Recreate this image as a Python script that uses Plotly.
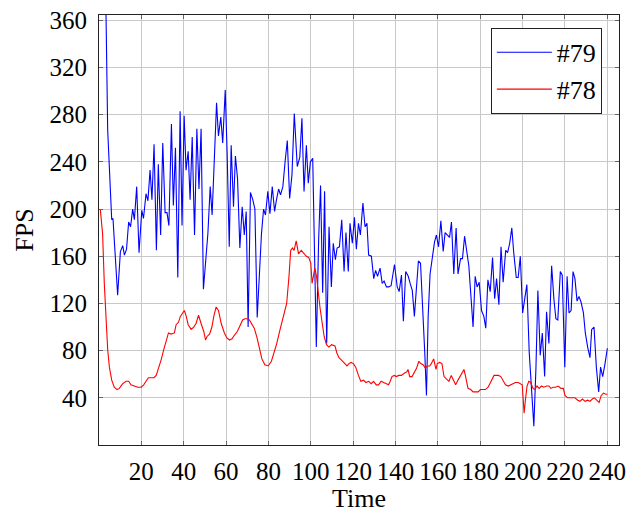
import plotly.graph_objects as go

# Series #79 (blue)
x79 = [1, 2, 3, 4.1, 6, 6.6, 8.8, 10.1, 11.2, 12, 13, 14, 14.9, 15.9, 16.7, 17.8, 18.9, 20.2, 21,
       22.2, 23.1, 24.1, 25, 26, 27.1, 28, 29.1, 30.1, 31.2, 32.1, 33, 34.2, 35.1, 36.1, 37.2,
       38.3, 39.2, 40.2, 41.1, 42.1, 43, 44, 45.1, 46.2, 47.2, 48.2, 49.3, 51.4, 52.5, 53.4,
       54.5, 55.5, 56.4, 57.5, 58.4, 59.6, 60.5, 61.5, 62.4, 63.5, 64.4, 65.4, 66.5, 67.6,
       68.6, 69.5, 70.4, 71.5, 72.6, 73.6, 74.7, 75.8, 76.7, 77.7, 78.6, 79.7, 80.7, 81.8,
       82.9, 83.8, 84.8, 85.7, 86.8, 87.9, 88.9, 90, 91.1, 92.2, 93.6, 94.8, 95.8, 96.8, 97.9,
       98.8, 99.8, 100.9, 102.6, 103.7, 104.6, 105.6, 106.5, 107.5, 108.6, 109.7, 110.6,
       111.6, 112.4, 113.5, 114.6, 115.7, 116.6, 117.7, 118.5, 119.6, 120.6, 121.5, 122.5,
       123.4, 124.6, 125.6, 126.5, 127.3, 128.6, 129.7, 130.6, 131.5, 132.7, 133.7, 134.6,
       135.7, 136.8, 137.9, 139.5, 140.8, 141.7, 142.8, 143.7, 144.8, 146, 146.9, 147.9,
       148.9, 149.9, 150.8, 151.8, 152.9, 153.8, 154.6, 155.4, 156.3, 157.4, 158.4, 159.3,
       160.3, 161.4, 162.5, 163.4, 164.5, 165.5, 166.4, 167.5, 168.6, 169.5, 170.7, 171.6,
       172.6, 173.7, 174.6, 175.6, 176.6, 177.6, 178.5, 179.5, 180.6, 181.7, 182.6, 183.6,
       184.7, 185.8, 186.8, 187.7, 188.8, 189.8, 190.8, 192, 192.9, 193.9, 194.9, 195.8,
       197, 197.9, 198.9, 200, 201, 202, 203.1, 204.3, 205.3, 206.3, 207.2, 208.3, 209.3,
       210.4, 211.3, 212.4, 213.7, 214.8, 215.7, 216.6, 217.8, 218.7, 219.9, 221, 221.9,
       222.9, 223.8, 224.7, 225.7, 226.6, 227.6, 228.7, 229.6, 230.7, 231.8, 232.6, 233.7,
       234.8, 235.9, 236.8, 237.8, 238.9, 240]
y79 = [500, 450, 404, 267, 191, 192, 127, 164, 169, 161, 166, 189, 185, 200, 191, 219, 163, 199, 192,
       213, 207, 233, 208, 255, 165, 238, 178, 256, 197, 197, 186, 272, 203, 252, 142,
       283, 186, 279, 233, 249, 208, 261, 178, 268, 217, 268, 132, 179, 219, 195,
       253, 290, 262, 278, 256, 301, 247, 168, 254, 202, 245, 226, 167, 202,
       178, 198, 100, 214, 208, 200, 108, 151, 179, 200, 195, 215, 196, 219,
       198, 208, 217, 212, 219, 241, 258, 209, 229, 281, 236, 244, 277, 215, 254,
       222, 240, 243, 83, 174, 220, 129, 215, 86, 185, 134, 171,
       157, 167, 168, 191, 147, 180, 147, 188, 171, 193, 166, 188,
       178, 205, 185, 188, 161, 160, 141, 148, 143, 150, 137, 139,
       134, 134, 135, 153, 134, 130, 144, 105, 147, 143, 137, 131,
       109, 131, 156, 154, 117, 78, 42, 109, 145, 160, 172, 178,
       168, 190, 164, 180, 178, 176, 189, 145, 184, 145, 158, 158,
       177, 162, 152, 126, 100, 143, 134, 138, 114, 109, 99, 140,
       130, 159, 124, 141, 119, 168, 138, 165, 163, 171, 184, 163,
       142, 142, 160, 112, 126, 136, 79, 48, 16, 66, 131, 76, 95,
       58, 113, 86, 152, 123, 107, 106, 147, 144, 66, 143, 112,
       114, 147, 141, 122, 126, 121, 112, 95, 83, 74, 98, 100,
       66, 45, 66, 58, 69, 82]

# Series #78 (red)
x78 = [0.6, 1.7, 2.5, 3.3, 4.1, 4.9, 6, 7.2, 8.5, 9.6, 11.2, 12.8, 14, 15.1, 16.7, 18.3, 19.9,
       21.1, 22.2, 23.3, 24.6, 25.9, 27, 28, 29.3, 30.6, 31.7, 32.8, 34, 35.6, 36.4, 37.5,
       38.4, 39.5, 40.3, 41.2, 42.1, 43.5, 44.7, 45.8, 47, 48.2, 49.5, 50.3, 51, 52.2, 53.3,
       54.2, 55.3, 56.4, 57.7, 59.2, 60.3, 61.6, 62.8, 63.9, 65.2, 66.3, 67.8, 68.9, 70.2,
       71, 72.1, 73.3, 74.6, 75.7, 76.9, 78.3, 79.9, 81.4, 82.7, 83.9, 85.5, 87.1, 88.6,
       89.7, 90.5, 91.3, 92.1, 93.1, 94.2, 95.5, 96.8, 97.9, 99, 100, 100.6, 101.3, 101.9,
       102.7, 103.5, 104.3, 105.4, 106.3, 107.4, 108.5, 109.8, 111.4, 112.3, 113.3, 114.5,
       115.8, 117.1, 118, 119, 120.1, 121.2, 122.5, 123.6, 124.9, 126, 127.3, 128.5, 129.6,
       130.9, 132, 133.2, 134.4, 135.5, 136.7, 137.5, 138.3, 139.4, 140.4, 141.5, 142.7,
       144.3, 145.3, 145.9, 146.7, 147.8, 148.8, 149.9, 151, 151.9, 153, 154.1, 155, 156.1,
       156.9, 158, 158.5, 159.1, 159.7, 160.8, 161.9, 162.9, 164, 165.2, 166.3, 167.4,
       168.4, 169.5, 170.7, 172.3, 173.1, 174.2, 175.5, 176.6, 177.7, 179, 180.1, 181.3,
       182.4, 183.7, 185.3, 186.5, 187.6, 188.6, 189.7, 190.8, 191.9, 193.2, 194.4, 195.5,
       196.6, 197.9, 198.9, 199.8, 200.3, 200.7, 201.3, 202.1, 202.9, 203.8, 204.9, 205.7,
       206.8, 207.8, 208.9, 210, 211.3, 212.4, 213.3, 214.4, 215.5, 216.8, 218.1, 219.2,
       220, 221.2, 222.4, 223.5, 224.7, 226, 227.1, 228.2, 229.5, 230.7, 231.8, 232.9,
       233.9, 235, 236.1, 237.1, 238.2, 239.3, 240]
y78 = [200, 179, 137, 103, 81, 66, 55, 49, 47, 48, 52, 54, 54, 51, 50, 49, 49,
       51, 54, 57, 57, 57, 59, 64, 72, 81, 89, 95, 94, 95, 102, 104,
       109, 112, 114, 109, 102, 98, 100, 103, 110, 103, 96, 89, 92, 94, 100,
       109, 117, 114, 103, 95, 91, 89, 90, 93, 96, 100, 106, 107, 107,
       106, 103, 99, 91, 81, 73, 68, 67, 71, 78, 86, 98, 109, 120,
       143, 165, 167, 165, 173, 162, 165, 162, 160, 159, 154, 137, 144, 150,
       143, 129, 117, 103, 92, 85, 83, 85, 84, 78, 74, 72,
       69, 67, 69, 70, 69, 66, 59, 54, 55, 53, 54, 52, 54,
       51, 51, 54, 53, 52, 51, 54, 58, 59, 58, 59, 59,
       61, 62, 64, 58, 58, 61, 65, 71, 69, 68, 65, 67, 67,
       69, 73, 69, 64, 69, 70, 69, 58, 56, 54, 59, 55,
       51, 55, 59, 64, 58, 48, 47, 45, 45, 45, 47, 47,
       47, 49, 55, 59, 59, 59, 58, 54, 51, 50, 51, 52,
       53, 53, 52, 51, 38, 27, 38, 50, 54, 53, 48, 47,
       50, 48, 50, 49, 50, 50, 48, 49, 49, 50, 48, 48,
       42, 40, 40, 40, 40, 38, 37, 39, 37, 38, 37, 39,
       40, 38, 36, 42, 44, 43, 43]

x_ticks = [20, 40, 60, 80, 100, 120, 140, 160, 180, 200, 220, 240]
y_ticks = [40, 80, 120, 160, 200, 240, 280, 320, 360]

FONT = "Liberation Serif"

fig = go.Figure()
fig.add_trace(go.Scatter(x=x79, y=y79, mode="lines", name="#79",
                         line=dict(color="#0000ff", width=1.1)))
fig.add_trace(go.Scatter(x=x78, y=y78, mode="lines", name="#78",
                         line=dict(color="#ff0000", width=1.1)))

axis_common = dict(
    showgrid=True, gridcolor="#c8c8c8", gridwidth=1,
    showline=True, linecolor="#222", linewidth=1, mirror="ticks",
    ticks="inside", ticklen=4, tickcolor="#666", tickwidth=1,
    zeroline=False, automargin=False,
    tickfont=dict(family=FONT, size=25, color="black"),
)

fig.update_layout(
    width=627, height=513,
    margin=dict(l=99, r=8, t=15, b=68),
    paper_bgcolor="white", plot_bgcolor="white",
    font=dict(family=FONT, color="black"),
    showlegend=True,
    legend=dict(x=0.967, y=0.97, xanchor="right", yanchor="top",
                bgcolor="white", bordercolor="#222", borderwidth=1,
                font=dict(family=FONT, size=26), itemwidth=55,
                tracegroupgap=0),
    xaxis=dict(range=[0, 245.5], tickvals=x_ticks, ticklabelstandoff=4,
               title=dict(text="Time", font=dict(family=FONT, size=26), standoff=8),
               **axis_common),
    yaxis=dict(range=[0, 364.5], tickvals=y_ticks, ticklabelstandoff=6,
               title=dict(text="FPS", font=dict(family=FONT, size=26), standoff=8),
               **axis_common),
)

fig.write_html("out.html")
